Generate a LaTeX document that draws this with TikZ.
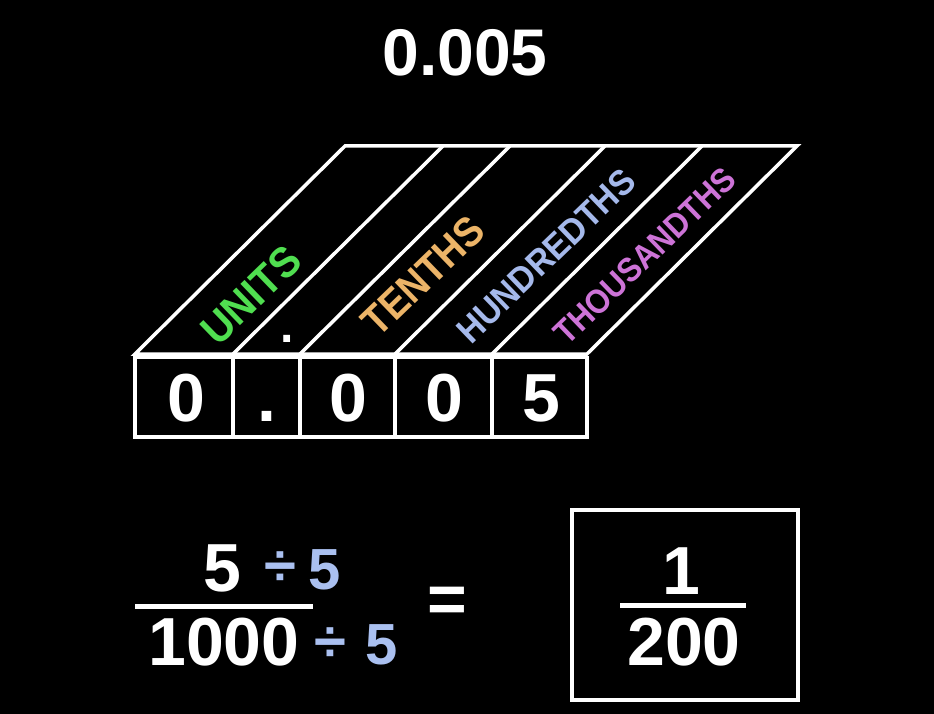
\documentclass[tikz,border=0pt]{standalone}
\usepackage{fontspec}
\setmainfont{Liberation Sans}
\definecolor{ugreen}{RGB}{80,222,80}
\definecolor{utan}{RGB}{236,180,104}
\definecolor{ublue}{RGB}{165,185,235}
\definecolor{uviolet}{RGB}{205,115,215}
\definecolor{divblue}{RGB}{170,192,240}
\newcommand\fsz[1]{\fontsize{#1}{#1}\selectfont}
\begin{document}
\begin{tikzpicture}[x=1pt,y=-1pt,
  wline/.style={draw=white,line width=3.5pt,line join=miter},
  txt/.style={inner sep=0pt,outer sep=0pt,anchor=center},
  colhead/.style={txt,rotate=44,font=\bfseries}]
\fill[black] (0,0) rectangle (934,714);
\useasboundingbox (0,0) rectangle (934,714);

% title
\node[txt,text=white,font=\fsz{66}\bfseries] (title) at (465,53) {0.005};

% grid coordinates
\foreach \i/\x in {0/135,1/233,2/300,3/395,4/492,5/587}{
  \coordinate (b\i) at (\x,354);
  \coordinate (t\i) at ({\x+210},146);
  \coordinate (r\i) at (\x,357.5);
  \coordinate (q\i) at (\x,437);
}
% parallelogram
\draw[wline] (b0) -- (t0) -- (t5) -- (b5) -- cycle;
\foreach \i in {1,...,4}{ \draw[wline] (b\i) -- (t\i); }
% boxes
\draw[wline] (r0) rectangle (q5);
\foreach \i in {1,...,4}{ \draw[wline] (r\i) -- (q\i); }

% headings
\node[colhead,text=ugreen,font=\fsz{43}\bfseries,xscale=0.93] (hunits) at (251,295) {UNITS};
\node[txt,text=white,font=\fsz{48}\bfseries] (hdot) at (287,339) {.};
\node[colhead,text=utan,font=\fsz{42}\bfseries,xscale=0.9] (htenths) at (423,276) {TENTHS};
\node[colhead,text=ublue,font=\fsz{36}\bfseries,xscale=0.92] (hhund) at (546,256) {HUNDREDTHS};
\node[colhead,text=uviolet,font=\fsz{34}\bfseries,xscale=0.91] (hthou) at (645,256) {THOUSANDTHS};

% digits
\tikzset{dig/.style={txt,text=white,font=\fsz{68}\bfseries}}
\node[dig] (d0) at (186,398) {0};
\node[dig] (d1) at (267,416) {.};
\node[dig] (d2) at (348,398) {0};
\node[dig] (d3) at (444,398) {0};
\node[dig] (d4) at (541,398) {5};

% left fraction
\tikzset{fw/.style={txt,text=white,font=\fsz{68}\bfseries},
         fb/.style={txt,text=divblue,font=\fsz{58}\bfseries}}
\node[fw] (n5) at (222,568) {5};
\node[fb] (ndiv) at (280,569) {÷};
\node[fb] (n5b) at (325,570) {5};
\coordinate (barl) at (135,606);
\coordinate (barr) at (313,606);
\draw[draw=white,line width=5pt] (barl) -- (barr);
\node[fw] (d1000) at (224,642) {1000};
\node[fb] (ddiv) at (330,645) {÷};
\node[fb] (d5b) at (382,645) {5};

\node[fw] (eq) at (447,605) {=};

% result box
\coordinate (bx1) at (572,510);
\coordinate (bx2) at (798,700);
\draw[draw=white,line width=3.5pt] (bx1) rectangle (bx2);
\node[fw] (r1) at (681,571) {1};
\coordinate (rbl) at (620,605);
\coordinate (rbr) at (746,605);
\draw[draw=white,line width=5pt] (rbl) -- (rbr);
\node[fw] (r200) at (684,642) {200};
\end{tikzpicture}
\end{document}
